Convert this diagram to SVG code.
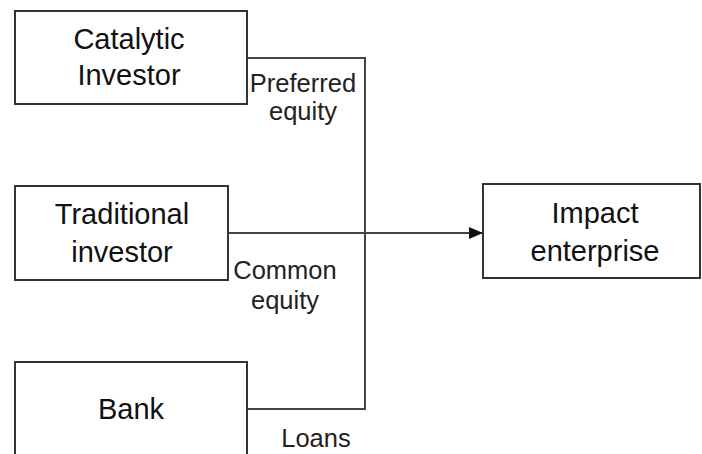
<svg xmlns="http://www.w3.org/2000/svg" width="702" height="454" viewBox="0 0 702 454">
  <defs>
    <marker id="arrow" markerWidth="14" markerHeight="12" refX="14" refY="6" orient="auto" markerUnits="userSpaceOnUse">
      <path d="M0,0 L14,6 L0,12 Z" fill="#111"/>
    </marker>
    <style>
      .box { fill: #fff; stroke: #333; stroke-width: 2; }
      .node-text { font-family: "Liberation Sans", Arial, sans-serif; font-size: 29px; fill: #111; text-anchor: middle; }
      .label { font-family: "Liberation Sans", Arial, sans-serif; font-size: 25.5px; fill: #222; text-anchor: middle; }
      .wire { fill: none; stroke: #444; stroke-width: 2; }
    </style>
  </defs>
  <rect width="702" height="454" fill="#fff"/>

  <g id="connectors">
    <polyline class="wire" points="247,58 365,58 365,409 247,409"/>
    <line class="wire" x1="228" y1="233" x2="483" y2="233" stroke="#111" marker-end="url(#arrow)"/>
    <text class="label" x="303" y="92">Preferred</text>
    <text class="label" x="303" y="120">equity</text>
    <text class="label" x="285" y="279">Common</text>
    <text class="label" x="285" y="309">equity</text>
    <text class="label" x="316" y="447">Loans</text>
  </g>

  <g id="catalytic-investor">
    <rect class="box" x="15" y="11" width="232" height="93"/>
    <text class="node-text" x="129" y="49">Catalytic</text>
    <text class="node-text" x="129" y="85">Investor</text>
  </g>

  <g id="traditional-investor">
    <rect class="box" x="15" y="186" width="213" height="94"/>
    <text class="node-text" x="122" y="224">Traditional</text>
    <text class="node-text" x="122" y="262">investor</text>
  </g>

  <g id="bank">
    <rect class="box" x="15" y="362" width="232" height="100"/>
    <text class="node-text" x="131" y="419">Bank</text>
  </g>

  <g id="impact-enterprise">
    <rect class="box" x="483" y="184" width="217" height="94"/>
    <text class="node-text" x="595" y="223">Impact</text>
    <text class="node-text" x="595" y="261">enterprise</text>
  </g>
</svg>
